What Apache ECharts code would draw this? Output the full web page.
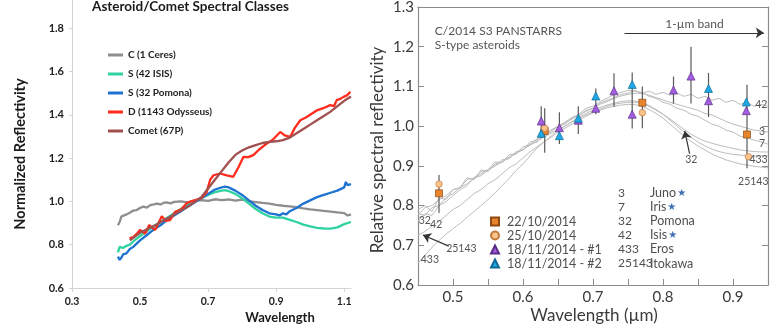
<!DOCTYPE html>
<html>
<head>
<meta charset="utf-8">
<script src="https://cdn.jsdelivr.net/npm/echarts@6.0.0/dist/echarts.min.js"></script>
<style>
  html, body { margin: 0; padding: 0; background: #ffffff; }
  #chart { width: 776px; height: 328px; }
</style>
</head>
<body>
<div id="chart"></div>
<script>
// ---------- Left panel: spectral classes ----------
const leftXTicks = [0.3, 0.5, 0.7, 0.9, 1.1];
const leftYTicks = [0.6, 0.8, 1.0, 1.2, 1.4, 1.6, 1.8];

const ceresX = [0.435, 0.44, 0.445, 0.45, 0.46, 0.47, 0.48, 0.49, 0.50, 0.51, 0.52, 0.53, 0.54, 0.55, 0.56, 0.57, 0.58, 0.59, 0.60, 0.62, 0.64, 0.66, 0.68, 0.70, 0.72, 0.74, 0.76, 0.78, 0.80, 0.82, 0.84, 0.86, 0.88, 0.90, 0.92, 0.94, 0.96, 0.98, 1.00, 1.02, 1.04, 1.06, 1.08, 1.10, 1.11, 1.12];
const ceresY = [0.89, 0.905, 0.93, 0.922, 0.94, 0.948, 0.958, 0.96, 0.97, 0.976, 0.971, 0.983, 0.986, 0.99, 0.986, 0.994, 0.995, 0.991, 0.998, 1.0, 0.996, 1.004, 1.006, 1.003, 1.01, 1.006, 1.009, 1.004, 1.008, 1.001, 0.997, 0.993, 0.99, 0.984, 0.98, 0.977, 0.974, 0.968, 0.963, 0.96, 0.956, 0.953, 0.949, 0.946, 0.935, 0.94];

const isisX = [0.435, 0.44, 0.45, 0.46, 0.47, 0.48, 0.50, 0.52, 0.54, 0.56, 0.58, 0.60, 0.62, 0.64, 0.66, 0.68, 0.70, 0.72, 0.74, 0.75, 0.76, 0.78, 0.80, 0.82, 0.84, 0.86, 0.88, 0.90, 0.92, 0.94, 0.96, 0.98, 1.00, 1.02, 1.04, 1.06, 1.08, 1.10, 1.12];
const isisY = [0.765, 0.79, 0.785, 0.795, 0.80, 0.815, 0.84, 0.862, 0.885, 0.905, 0.925, 0.945, 0.965, 0.985, 1.0, 1.015, 1.03, 1.043, 1.05, 1.052, 1.048, 1.035, 1.015, 0.99, 0.965, 0.945, 0.93, 0.925, 0.925, 0.915, 0.905, 0.893, 0.885, 0.878, 0.875, 0.874, 0.88, 0.895, 0.905];

const pomonaX = [0.435, 0.44, 0.445, 0.45, 0.46, 0.47, 0.48, 0.50, 0.52, 0.54, 0.56, 0.58, 0.60, 0.62, 0.64, 0.66, 0.68, 0.70, 0.72, 0.74, 0.75, 0.76, 0.78, 0.80, 0.82, 0.84, 0.86, 0.88, 0.90, 0.91, 0.92, 0.93, 0.94, 0.96, 0.98, 1.00, 1.02, 1.04, 1.06, 1.08, 1.10, 1.105, 1.11, 1.12];
const pomonaY = [0.745, 0.73, 0.74, 0.755, 0.76, 0.78, 0.79, 0.82, 0.845, 0.87, 0.89, 0.915, 0.935, 0.955, 0.975, 0.995, 1.015, 1.035, 1.055, 1.065, 1.068, 1.065, 1.05, 1.03, 1.005, 0.98, 0.96, 0.945, 0.94, 0.935, 0.945, 0.94, 0.955, 0.97, 0.99, 1.005, 1.02, 1.03, 1.04, 1.05, 1.065, 1.09, 1.075, 1.08];

const odysseusX = [0.469, 0.48, 0.49, 0.50, 0.515, 0.527, 0.544, 0.564, 0.575, 0.588, 0.603, 0.62, 0.637, 0.65, 0.667, 0.68, 0.696, 0.706, 0.716, 0.735, 0.755, 0.774, 0.79, 0.804, 0.818, 0.833, 0.85, 0.873, 0.89, 0.912, 0.925, 0.941, 0.955, 0.971, 0.99, 1.02, 1.04, 1.059, 1.07, 1.078, 1.09, 1.098, 1.108, 1.118];
const odysseusY = [0.829, 0.835, 0.85, 0.868, 0.852, 0.891, 0.868, 0.932, 0.91, 0.914, 0.952, 0.962, 0.992, 1.0, 1.009, 1.015, 1.044, 1.1, 1.121, 1.129, 1.12, 1.114, 1.16, 1.206, 1.205, 1.214, 1.24, 1.268, 1.285, 1.321, 1.305, 1.298, 1.34, 1.375, 1.39, 1.421, 1.432, 1.445, 1.44, 1.468, 1.475, 1.483, 1.49, 1.506];

const cometX = [0.47, 0.50, 0.55, 0.60, 0.65, 0.68, 0.70, 0.72, 0.74, 0.76, 0.78, 0.80, 0.82, 0.84, 0.86, 0.88, 0.90, 0.92, 0.94, 0.96, 0.98, 1.00, 1.02, 1.04, 1.06, 1.08, 1.10, 1.12];
const cometY = [0.82, 0.855, 0.895, 0.94, 0.985, 1.02, 1.06, 1.10, 1.14, 1.18, 1.215, 1.235, 1.25, 1.26, 1.27, 1.275, 1.278, 1.283, 1.295, 1.315, 1.335, 1.355, 1.375, 1.395, 1.415, 1.44, 1.465, 1.485];

// ---------- Right panel: comet photometry vs S-type spectra ----------
const rightXTicks = [0.5, 0.55, 0.6, 0.65, 0.7, 0.75, 0.8, 0.85, 0.9];
const rightXLabels = [0.5, 0.6, 0.7, 0.8, 0.9];

const specX = [0.45, 0.46, 0.47, 0.48, 0.49, 0.50, 0.51, 0.52, 0.53, 0.54, 0.55, 0.56, 0.57, 0.58, 0.59, 0.60, 0.61, 0.62, 0.63, 0.64, 0.65, 0.66, 0.67, 0.68, 0.69, 0.70, 0.71, 0.72, 0.73, 0.74, 0.75, 0.76, 0.77, 0.78, 0.79, 0.80, 0.81, 0.82, 0.83, 0.84, 0.85, 0.86, 0.87, 0.88, 0.89, 0.90, 0.91, 0.92, 0.93, 0.94, 0.95];
const junoY = [0.775, 0.795, 0.80, 0.815, 0.825, 0.84, 0.845, 0.865, 0.87, 0.885, 0.89, 0.91, 0.908, 0.928, 0.93, 0.948, 0.953, 0.968, 0.975, 0.99, 0.998, 1.008, 1.018, 1.028, 1.037, 1.045, 1.055, 1.062, 1.07, 1.076, 1.08, 1.083, 1.082, 1.078, 1.072, 1.066, 1.06, 1.055, 1.05, 1.045, 1.04, 1.032, 1.028, 1.02, 1.012, 1.005, 1.0, 0.995, 0.99, 0.988, 0.985];
const irisY = [0.79, 0.80, 0.785, 0.82, 0.815, 0.84, 0.845, 0.87, 0.865, 0.89, 0.885, 0.905, 0.91, 0.92, 0.935, 0.94, 0.955, 0.96, 0.978, 0.985, 1.0, 1.01, 1.022, 1.03, 1.045, 1.05, 1.062, 1.07, 1.08, 1.085, 1.09, 1.088, 1.085, 1.075, 1.07, 1.06, 1.055, 1.045, 1.04, 1.03, 1.025, 1.015, 1.005, 1.0, 0.99, 0.985, 0.975, 0.97, 0.965, 0.96, 0.955];
const isisSpecY = [0.76, 0.78, 0.775, 0.80, 0.81, 0.825, 0.84, 0.85, 0.87, 0.875, 0.89, 0.90, 0.915, 0.918, 0.935, 0.94, 0.96, 0.965, 0.98, 0.99, 1.0, 1.005, 1.02, 1.025, 1.04, 1.045, 1.058, 1.065, 1.072, 1.08, 1.083, 1.09, 1.082, 1.088, 1.08, 1.085, 1.078, 1.083, 1.075, 1.08, 1.07, 1.075, 1.065, 1.07, 1.06, 1.065, 1.055, 1.06, 1.05, 1.055, 1.05];
const pomonaSpecY = [0.78, 0.775, 0.795, 0.80, 0.82, 0.83, 0.845, 0.855, 0.868, 0.88, 0.89, 0.90, 0.91, 0.922, 0.93, 0.942, 0.952, 0.962, 0.972, 0.982, 0.992, 1.0, 1.01, 1.02, 1.028, 1.036, 1.043, 1.05, 1.055, 1.058, 1.06, 1.06, 1.057, 1.05, 1.04, 1.03, 1.018, 1.005, 0.992, 0.98, 0.97, 0.962, 0.957, 0.952, 0.948, 0.944, 0.94, 0.938, 0.936, 0.935, 0.935];
const erosY = [0.655, 0.675, 0.695, 0.712, 0.728, 0.742, 0.755, 0.77, 0.785, 0.80, 0.815, 0.832, 0.85, 0.868, 0.888, 0.905, 0.925, 0.945, 0.96, 0.975, 0.99, 1.0, 1.012, 1.022, 1.032, 1.04, 1.047, 1.053, 1.058, 1.062, 1.064, 1.063, 1.06, 1.052, 1.042, 1.03, 1.015, 1.0, 0.985, 0.972, 0.96, 0.95, 0.942, 0.936, 0.932, 0.929, 0.927, 0.926, 0.925, 0.925, 0.925];
const itokawaY = [0.725, 0.735, 0.748, 0.76, 0.775, 0.79, 0.80, 0.815, 0.83, 0.84, 0.855, 0.865, 0.88, 0.895, 0.905, 0.92, 0.935, 0.948, 0.96, 0.972, 0.985, 0.995, 1.005, 1.015, 1.025, 1.033, 1.04, 1.046, 1.05, 1.053, 1.055, 1.054, 1.05, 1.042, 1.032, 1.02, 1.005, 0.99, 0.975, 0.962, 0.95, 0.94, 0.93, 0.922, 0.915, 0.91, 0.905, 0.902, 0.899, 0.897, 0.895];

const sq22X = [0.48, 0.631, 0.7705, 0.92];
const sq22Y = [0.831, 0.988, 1.059, 0.979];
const hex25X = [0.48, 0.631, 0.7705, 0.922];
const hex25Y = [0.854, 0.995, 1.034, 0.923];
const tri1X = [0.626, 0.652, 0.679, 0.704, 0.730, 0.756, 0.815, 0.840, 0.865, 0.919];
const tri1Y = [1.013, 0.996, 1.015, 1.045, 1.089, 1.030, 1.091, 1.126, 1.064, 1.039];
const tri2X = [0.626, 0.652, 0.679, 0.704, 0.756, 0.865, 0.919];
const tri2Y = [0.982, 0.976, 1.020, 1.076, 1.105, 1.095, 1.061];

const errX  = [0.48, 0.626, 0.631, 0.652, 0.679, 0.704, 0.730, 0.756, 0.7705, 0.815, 0.840, 0.865, 0.92];
const errLo = [0.781, 0.97, 0.933, 0.955, 0.98, 1.03, 1.049, 0.994, 0.995, 1.057, 1.057, 1.023, 0.894];
const errHi = [0.877, 1.05, 1.045, 1.035, 1.05, 1.095, 1.133, 1.135, 1.10, 1.125, 1.2, 1.134, 1.104];

const asteroidNums  = ['3', '7', '32', '42', '433', '25143'];
const asteroidNames = ['Juno', 'Iris', 'Pomona', 'Isis', 'Eros', 'Itokawa'];
const asteroidStar  = [true, true, false, true, false, false];

// ---------- helpers ----------
const zip = (xs, ys) => xs.map((x, i) => [x, ys[i]]);
const FONT = 'Lato, "Open Sans", sans-serif';

const chart = echarts.init(document.getElementById('chart'), null, { renderer: 'canvas' });

function leftLine(name, xs, ys, color) {
  return {
    name, type: 'line', xAxisIndex: 0, yAxisIndex: 0,
    data: zip(xs, ys), symbol: 'none', color,
    lineStyle: { color, width: 2.3 }, z: 3, animation: false
  };
}
function specLine(name, ys) {
  return {
    name, type: 'line', xAxisIndex: 1, yAxisIndex: 1,
    data: zip(specX, ys), symbol: 'none', silent: true,
    lineStyle: { color: '#bdbdbd', width: 1 }, z: 1, animation: false
  };
}
function markers(name, xs, ys, symbol, size, fill, border) {
  return {
    name, type: 'scatter', xAxisIndex: 1, yAxisIndex: 1,
    data: zip(xs, ys), symbol, symbolSize: size,
    itemStyle: { color: fill, borderColor: border, borderWidth: 0.7, opacity: 1 },
    z: 4, animation: false
  };
}

const rightAxisLine = { show: true, lineStyle: { color: '#8c8c8c', width: 1.2 } };

const option = {
  backgroundColor: '#ffffff',
  animation: false,
  grid: [
    { left: 72, top: -15, width: 279, height: 303, outerBoundsMode: 'none', containLabel: false },
    { left: 418, top: 7, width: 350, height: 278, outerBoundsMode: 'none', containLabel: false }
  ],
  xAxis: [
    {
      gridIndex: 0, type: 'value', min: 0.3, max: 1.12,
      axisLine: { show: true, onZero: false, lineStyle: { color: '#d4d4d4', width: 1 } },
      axisTick: { show: true, length: 4, customValues: leftXTicks, lineStyle: { color: '#d4d4d4' } },
      axisLabel: { customValues: leftXTicks, formatter: v => v.toFixed(1), margin: 8,
        color: '#222', fontFamily: FONT, fontWeight: 'bold', fontSize: 10.5 },
      splitLine: { show: false }
    },
    {
      gridIndex: 1, type: 'value', min: 0.45, max: 0.95, position: 'bottom',
      axisLine: rightAxisLine,
      axisTick: { show: true, inside: true, length: 6, customValues: rightXTicks, lineStyle: { color: '#8c8c8c' } },
      axisLabel: { customValues: rightXLabels, formatter: v => v.toFixed(1), margin: 5,
        color: '#3a3a3a', fontFamily: FONT, fontSize: 15 },
      splitLine: { show: false }
    },
    {
      gridIndex: 1, type: 'value', min: 0.45, max: 0.95, position: 'top',
      axisLine: rightAxisLine, axisTick: { show: false }, axisLabel: { show: false },
      splitLine: { show: false }
    }
  ],
  yAxis: [
    {
      gridIndex: 0, type: 'value', min: 0.6, max: 2.0,
      axisLine: { show: true, lineStyle: { color: '#d4d4d4', width: 1 } },
      axisTick: { show: true, length: 3, customValues: leftYTicks, lineStyle: { color: '#d4d4d4' } },
      axisLabel: { customValues: leftYTicks, formatter: v => v.toFixed(1), margin: 8,
        color: '#222', fontFamily: FONT, fontWeight: 'bold', fontSize: 11 },
      splitLine: { show: false }
    },
    {
      gridIndex: 1, type: 'value', min: 0.6, max: 1.3, interval: 0.1, position: 'left',
      axisLine: rightAxisLine,
      axisTick: { show: true, inside: true, length: 6, lineStyle: { color: '#8c8c8c' } },
      axisLabel: { formatter: v => v.toFixed(1), margin: 4, showMinLabel: true, showMaxLabel: true,
        color: '#3a3a3a', fontFamily: FONT, fontSize: 15 },
      splitLine: { show: false }
    },
    {
      gridIndex: 1, type: 'value', min: 0.6, max: 1.3, interval: 0.1, position: 'right',
      axisLine: rightAxisLine,
      axisTick: { show: true, inside: true, length: 6, lineStyle: { color: '#8c8c8c' } },
      axisLabel: { show: false }, splitLine: { show: false }
    }
  ],
  legend: [
    {
      data: ['C (1 Ceres)', 'S (42 ISIS)', 'S (32 Pomona)', 'D (1143 Odysseus)', 'Comet (67P)'],
      orient: 'vertical', left: 103, top: 44, icon: 'rect',
      itemWidth: 15, itemHeight: 3, itemGap: 7, selectedMode: false,
      textStyle: { fontFamily: FONT, fontWeight: 'bold', fontSize: 10, color: '#222', lineHeight: 12 }
    },
    {
      data: ['22/10/2014', '25/10/2014', '18/11/2014 - #1', '18/11/2014 - #2'],
      orient: 'vertical', left: 490, top: 215, padding: 0,
      itemWidth: 8, itemHeight: 8, itemGap: 1, selectedMode: false,
      textStyle: { fontFamily: FONT, fontSize: 12.5, color: '#505050', padding: [0, 0, 0, 3] }
    }
  ],
  series: [
    leftLine('C (1 Ceres)', ceresX, ceresY, '#8e8e8e'),
    leftLine('S (42 ISIS)', isisX, isisY, '#2fd3a1'),
    leftLine('S (32 Pomona)', pomonaX, pomonaY, '#1f73d0'),
    leftLine('D (1143 Odysseus)', odysseusX, odysseusY, '#ff2b1c'),
    leftLine('Comet (67P)', cometX, cometY, '#a0504f'),

    specLine('3 Juno', junoY),
    specLine('7 Iris', irisY),
    specLine('42 Isis', isisSpecY),
    specLine('32 Pomona', pomonaSpecY),
    specLine('433 Eros', erosY),
    Object.assign(specLine('25143 Itokawa', itokawaY), {
      markLine: {
        silent: true, symbol: ['none', 'arrow'], symbolSize: 8,
        label: { show: false },
        lineStyle: { color: '#333', width: 1.2, type: 'solid' },
        data: [
          [{ coord: [0.745, 1.235] }, { coord: [0.944, 1.235] }],
          [{ coord: [0.494, 0.698] }, { coord: [0.457, 0.726] }],
          [{ coord: [0.838, 0.931] }, { coord: [0.831, 0.988] }]
        ]
      }
    }),

    {
      name: 'error bars', type: 'custom', xAxisIndex: 1, yAxisIndex: 1,
      data: errX.map((x, i) => [x, errLo[i], errHi[i]]),
      silent: true, z: 2, animation: false,
      renderItem: (params, api) => {
        const a = api.coord([api.value(0), api.value(1)]);
        const b = api.coord([api.value(0), api.value(2)]);
        return { type: 'line', shape: { x1: a[0], y1: a[1], x2: b[0], y2: b[1] },
          style: { stroke: '#5a5a5a', lineWidth: 1.2 } };
      }
    },

    markers('22/10/2014', sq22X, sq22Y, 'rect', 7, '#e8842c', '#8e4a12'),
    markers('25/10/2014', hex25X, hex25Y, 'circle', 6.5, '#fcc38c', '#c27a3c'),
    markers('18/11/2014 - #1', tri1X, tri1Y, 'triangle', 8, '#a35ee0', '#5b2c86'),
    markers('18/11/2014 - #2', tri2X, tri2Y, 'triangle', 8, '#1ea8e6', '#116a96')
  ]
};

chart.setOption(option);

// ---------- text annotations ----------
const toPx = (x, y) => chart.convertToPixel({ xAxisIndex: 1, yAxisIndex: 1 }, [x, y]);

function txt(x, y, text, opts) {
  return { type: 'text', x, y, silent: true, z: 10,
    style: Object.assign({ text, fill: '#444', fontFamily: FONT, fontSize: 12,
      align: 'left', verticalAlign: 'middle' }, opts || {}) };
}
function dataTxt(x, y, text, opts) {
  const p = toPx(x, y);
  return txt(p[0], p[1], text, opts);
}

const curveLabel = { fontSize: 10.5, fill: '#555', align: 'center' };

const graphics = [
  // left panel texts
  txt(92, 7, 'Asteroid/Comet Spectral Classes', { fontWeight: 'bold', fontSize: 13.5, fill: '#1a1a1a' }),
  Object.assign(txt(20, 154, 'Normalized Reflectivity',
    { fontWeight: 'bold', fontSize: 14.5, fill: '#1a1a1a', align: 'center' }), { rotation: Math.PI / 2 }),
  txt(280, 318, 'Wavelength', { fontWeight: 'bold', fontSize: 13, fill: '#1a1a1a', align: 'center' }),

  // right panel axis titles
  Object.assign(txt(378, 150, 'Relative spectral reflectivity',
    { fontSize: 17, fill: '#3a3a3a', align: 'center' }), { rotation: Math.PI / 2 }),
  txt(594, 316, 'Wavelength (\u00b5m)', { fontSize: 17, fill: '#3a3a3a', align: 'center' }),

  // right panel headings
  dataTxt(0.474, 1.238, 'C/2014 S3 PANSTARRS', { fontSize: 12, fill: '#555' }),
  dataTxt(0.474, 1.205, 'S-type asteroids', { fontSize: 12, fill: '#555' }),
  dataTxt(0.845, 1.257, '1-\u00b5m band', { fontSize: 12, fill: '#555', align: 'center' }),

  // spectrum labels
  dataTxt(0.4598, 0.763, '32', curveLabel),
  dataTxt(0.476, 0.751, '42', curveLabel),
  dataTxt(0.467, 0.663, '433', curveLabel),
  dataTxt(0.512, 0.692, '25143', curveLabel),
  dataTxt(0.9405, 1.053, '42', curveLabel),
  dataTxt(0.9415, 0.986, '3', curveLabel),
  dataTxt(0.9415, 0.955, '7', curveLabel),
  dataTxt(0.9365, 0.915, '433', curveLabel),
  dataTxt(0.929, 0.860, '25143', curveLabel),
  dataTxt(0.8405, 0.915, '32', curveLabel)
];

// asteroid key
asteroidNums.forEach((num, i) => {
  const y = 193 + i * 14.1;
  graphics.push(txt(618, y, num, { fontSize: 12, fill: '#505050' }));
  graphics.push(txt(650, y, asteroidNames[i] + (asteroidStar[i] ? '{s|\u2605}' : ''), {
    fontSize: 12.5, fill: '#505050',
    rich: { s: { fontSize: 10, fill: '#3d6fb5', fontFamily: 'DejaVu Sans', padding: [0, 0, 0, 1] } }
  }));
});

chart.setOption({ graphic: graphics });
</script>
</body>
</html>
